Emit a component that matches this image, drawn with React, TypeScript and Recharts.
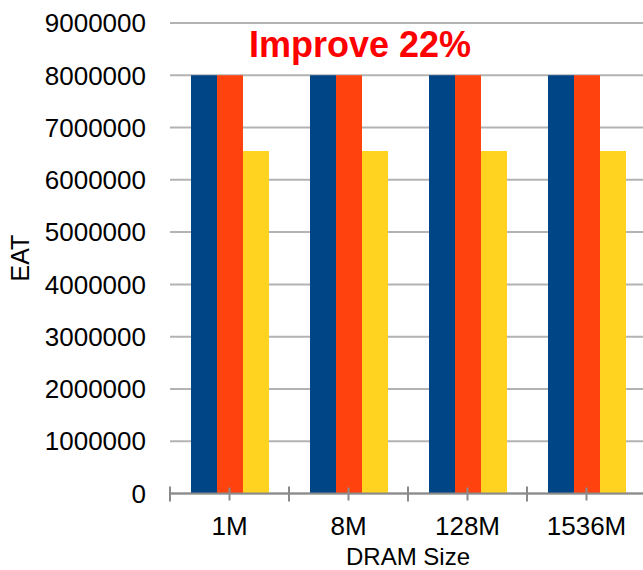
import React from "react"
import { BarChart, Bar, XAxis, YAxis, CartesianGrid } from "recharts"

const categories = ["1M", "8M", "128M", "1536M"]
const seriesBlue = [8000000, 8000000, 8000000, 8000000]
const seriesOrange = [8000000, 8000000, 8000000, 8000000]
const seriesYellow = [6550000, 6550000, 6550000, 6550000]
const yTicks = [0, 1000000, 2000000, 3000000, 4000000, 5000000, 6000000, 7000000, 8000000, 9000000]
const title = "Improve 22%"

const W = 646
const H = 570
const Y_AXIS_W = 170
const BAND = (W - Y_AXIS_W) / categories.length
const FONT = "'Liberation Sans', Arial, sans-serif"
const AXIS_GRAY = "#8a8a8a"

const data = categories.map((c, i) => ({
  name: c,
  a: seriesBlue[i],
  b: seriesOrange[i],
  c: seriesYellow[i],
}))

function XTick(props: any) {
  const { x, y, payload, index } = props
  const half = BAND / 2
  const last = index === categories.length - 1
  return (
    <g>
      <line x1={x} x2={x} y1={y - 6} y2={y + 7} stroke={AXIS_GRAY} strokeWidth={2} />
      <line x1={x - half} x2={x - half} y1={y - 7} y2={y + 8} stroke={AXIS_GRAY} strokeWidth={2} />
      {last && <line x1={x + half} x2={x + half} y1={y - 7} y2={y + 8} stroke={AXIS_GRAY} strokeWidth={2} />}
      <text x={x} y={y + 41} textAnchor="middle" fontSize={26} fill="#000" fontFamily={FONT}>
        {payload.value}
      </text>
    </g>
  )
}

function YLabel() {
  return (
    <text x={29} y={258} transform="rotate(-90, 29, 258)" textAnchor="middle" fontSize={25} fill="#000" fontFamily={FONT}>
      EAT
    </text>
  )
}

export default function App() {
  return (
    <div style={{ position: "absolute", left: 0, top: 0, width: W, height: H, background: "#fff", fontFamily: FONT }}>
      <BarChart width={W} height={H} data={data} margin={{ top: 23, right: 0, left: 0, bottom: 0 }} barGap={0}>
        <CartesianGrid vertical={false} stroke="#b3b3b3" strokeWidth={2} />
        <XAxis
          dataKey="name"
          height={76.5}
          tickLine={false}
          tickSize={0}
          tickMargin={0}
          stroke={AXIS_GRAY}
          strokeWidth={2}
          tick={<XTick />}
          label={{ value: "DRAM Size", position: "insideBottom", offset: 5, fontSize: 24, fill: "#000", fontFamily: FONT }}
        />
        <YAxis
          width={Y_AXIS_W}
          domain={[0, 9000000]}
          ticks={yTicks}
          axisLine={false}
          tickLine={false}
          tickSize={0}
          tickMargin={24}
          interval={0}
          tick={{ fontSize: 26, fill: "#000", fontFamily: FONT }}
          label={<YLabel />}
        />
        <Bar dataKey="a" fill="#004586" barSize={26} isAnimationActive={false} />
        <Bar dataKey="b" fill="#ff420e" barSize={26} isAnimationActive={false} />
        <Bar dataKey="c" fill="#ffd320" barSize={26} isAnimationActive={false} />
      </BarChart>
      <div
        style={{
          position: "absolute",
          left: 249,
          top: 27,
          fontSize: 36,
          lineHeight: 1,
          fontWeight: "bold",
          color: "#ff0000",
          whiteSpace: "nowrap",
        }}
      >
        {title}
      </div>
    </div>
  )
}
